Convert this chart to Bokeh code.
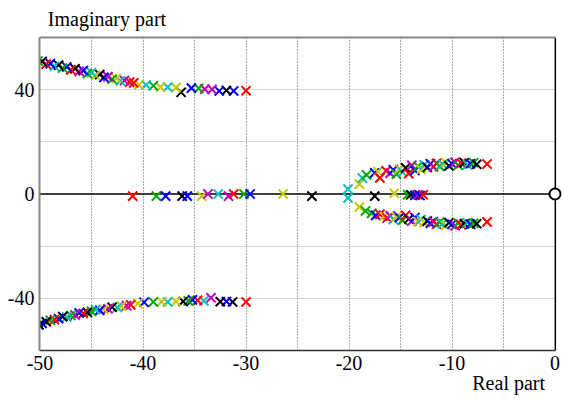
from bokeh.plotting import figure
from bokeh.models import Range1d, FixedTicker, LinearAxis, Span, ColumnDataSource, BoxAnnotation
from bokeh.embed import file_html
from bokeh.resources import INLINE

# ---- data ----
ul_re = [-30.0, -31.2, -31.9, -32.6, -33.3, -34.0, -34.6, -35.3, -36.3, -36.8,
         -37.6, -38.3, -39.0, -39.7, -40.4, -40.9, -41.3, -41.8, -42.2, -42.6,
         -43.0, -43.4, -43.8, -44.2, -44.6, -45.0, -45.4, -45.8, -46.2, -46.6,
         -47.0, -47.4, -47.8, -48.2, -48.6, -49.0, -49.4, -49.8, -50.2, -50.5]
ul_im = [39.6, 39.5, 39.7, 39.5, 40.1, 40.2, 40.5, 40.6, 39.0, 40.8,
         41.0, 41.0, 41.5, 41.8, 41.9, 42.6, 42.9, 43.5, 43.4, 44.3,
         44.0, 45.0, 44.7, 45.8, 45.5, 46.6, 46.2, 47.3, 47.0, 48.0,
         47.6, 48.7, 48.3, 49.4, 49.0, 50.0, 49.8, 50.8, 51.0, 51.6]
ul_col = list("rbkbmmgbkycygcyrrmcygmbkycgbmkrbgkcbrkgg")

ll_re = [-30.0, -31.3, -31.9, -32.5, -33.4, -34.1, -34.7, -35.2, -35.6, -36.1,
         -36.8, -37.6, -38.2, -39.0, -39.9, -40.5, -41.2, -41.6, -42.1, -42.5,
         -43.0, -43.4, -43.8, -44.2, -44.6, -45.0, -45.4, -45.8, -46.2, -46.6,
         -47.0, -47.4, -47.8, -48.2, -48.6, -49.0, -49.4, -49.8, -50.1, -50.5]
ll_im = [-41.4, -41.4, -41.2, -41.3, -39.8, -41.0, -40.8, -40.6, -41.0, -41.2,
         -41.2, -41.4, -41.3, -41.4, -41.5, -42.0, -42.5, -42.8, -43.0, -43.5,
         -43.4, -44.0, -44.2, -44.6, -44.4, -45.0, -45.4, -45.8, -45.6, -46.4,
         -46.6, -47.2, -47.0, -47.8, -48.2, -48.4, -49.0, -49.6, -50.2, -50.8]
ll_col = list("rkbkmcrbgkycygbyrmyckmybcgkrbmgckbrgkbkg")

ax_re = [-41.0, -38.7, -37.8, -36.2, -35.7, -34.3, -33.7, -32.7, -31.7, -31.2,
         -30.2, -29.6, -26.4, -23.6, -17.5, -15.6, -14.3, -14.0, -13.6, -13.3,
         -13.1, -12.8]
ax_im = [-0.8, -0.8, -0.8, -0.8, -0.8, -0.8, 0.0, 0.0, -0.8, 0.0,
         0.0, 0.0, 0.0, -0.8, -0.8, 0.3, -0.3, -0.3, -0.5, -0.3,
         -0.6, -0.3]
ax_col = list("rgbkbymcmrgbykkygkbmbr")

uc_re = [-20.1, -19.0, -18.7, -18.3, -17.5, -17.2, -17.0, -16.4, -16.0, -15.7,
         -15.4, -15.1, -14.8, -14.5, -14.2, -13.9, -13.6, -13.3, -13.0, -12.7,
         -12.4, -12.1, -11.8, -11.5, -11.2, -10.9, -10.6, -10.3, -10.0, -9.7,
         -9.4, -9.1, -8.8, -8.5, -8.2, -7.9, -7.6, -6.6]
uc_im = [1.9, 3.8, 6.1, 7.3, 8.1, 8.6, 6.2, 8.9, 8.0, 9.3,
         7.6, 9.6, 8.4, 10.0, 7.8, 11.0, 9.0, 10.6, 9.4, 11.2,
         10.2, 11.6, 10.4, 11.8, 10.6, 11.4, 12.0, 10.8, 11.6, 12.2,
         11.0, 11.8, 12.0, 11.2, 11.6, 12.0, 11.4, 11.5]
uc_col = list("cycgbyrrmbgyckrmbgyckbmrgcykbmgrkcbgkr")

lc_re = [-20.1, -19.0, -18.4, -17.8, -17.4, -17.0, -16.6, -16.3, -16.0, -15.7,
         -15.4, -15.1, -14.8, -14.5, -14.2, -13.9, -13.6, -13.3, -13.0, -12.7,
         -12.4, -12.1, -11.8, -11.5, -11.2, -10.9, -10.6, -10.3, -10.0, -9.7,
         -9.4, -9.1, -8.8, -8.5, -8.2, -7.9, -7.6, -6.6]
lc_im = [-1.5, -5.0, -6.5, -7.4, -8.2, -7.8, -8.6, -9.2, -8.4, -9.8,
         -8.8, -9.0, -10.0, -8.2, -9.6, -10.4, -9.0, -10.6, -9.8, -11.0,
         -10.4, -11.2, -10.6, -11.6, -10.8, -11.4, -12.0, -11.0, -11.6, -12.2,
         -11.2, -11.8, -11.4, -11.0, -11.6, -11.2, -11.4, -10.7]
lc_col = list("cyggbryrmcybgrkmbycykbmrgcykbmgrkcbgkr")

zero_re = [0.0]
zero_im = [0.0]

x_ticks = [-50, -40, -30, -20, -10, 0]
x_tick_labels = ["-50", "-40", "-30", "-20", "-10", "0"]
y_ticks = [-40, 0, 40]
y_tick_labels = ["-40", "0", "40"]
x_grid = [-45, -40, -35, -30, -25, -20, -15, -10, -5]
y_grid = [-40, -20, 20, 40]

x_title = "Real part"
y_title = "Imaginary part"
x_title_at = -4.5
y_title_at = -43.5

X_LO, X_HI = -50.05, 0.05      # the visible box of the axes
COLORS = {'r': '#ff0000', 'g': '#00a800', 'b': '#0000ff', 'k': '#000000',
          'c': '#00c0c0', 'm': '#c000c0', 'y': '#c8c800'}

FONT = "Liberation Serif"

# the drawing area runs a few pixels past the right border so the origin circle is not clipped
p = figure(width=562, height=400, x_range=Range1d(X_LO, 0.63), y_range=Range1d(-60, 60),
           output_backend="svg", toolbar_location=None,
           min_border_left=39, min_border_right=1, min_border_top=37, min_border_bottom=50,
           background_fill_color="white", border_fill_color="white")
p.outline_line_color = None

# grids
p.xgrid.ticker = FixedTicker(ticks=x_grid)
p.xgrid.grid_line_color = "#555555"
p.xgrid.grid_line_dash = "1 2"
p.xgrid.grid_line_width = 1
p.ygrid.ticker = FixedTicker(ticks=y_grid)
p.ygrid.grid_line_color = "#aaaaaa"
p.ygrid.grid_line_dash = "1 1"
p.ygrid.grid_line_width = 1


def style(ax, ticks, labels, standoff):
    ax.ticker = FixedTicker(ticks=ticks)
    ax.major_label_overrides = {t: l for t, l in zip(ticks, labels)}
    ax.major_tick_line_color = None
    ax.minor_tick_line_color = None
    ax.major_tick_out = 0
    ax.major_tick_in = 0
    ax.minor_tick_out = 0
    ax.minor_tick_in = 0
    ax.major_label_text_font = FONT
    ax.major_label_text_font_size = "20px"
    ax.major_label_text_color = "black"
    ax.major_label_standoff = standoff


style(p.xaxis[0], x_ticks, x_tick_labels, 5)
p.xaxis[0].axis_line_color = "#333333"
p.xaxis[0].axis_line_width = 1.5
p.xaxis[0].bounds = (X_LO, X_HI)
style(p.yaxis[0], y_ticks, y_tick_labels, 5)
p.yaxis[0].axis_line_color = "#888888"
p.yaxis[0].axis_line_width = 2

# top axis carries the vertical-axis title, second bottom axis the horizontal title
top = LinearAxis()
style(top, [y_title_at], [y_title], 8)
top.axis_line_color = "#888888"
top.axis_line_width = 2
top.bounds = (X_LO, X_HI)
p.add_layout(top, "above")

bottom2 = LinearAxis()
style(bottom2, [x_title_at], [x_title], -1)
bottom2.axis_line_color = None
bottom2.bounds = (X_LO, X_HI)
p.add_layout(bottom2, "below")

# blank strip right of the border, then zero line and right border
p.add_layout(BoxAnnotation(left=X_HI, fill_color="white", fill_alpha=1.0, line_color=None,
                           level="underlay"))
p.add_layout(Span(location=0, dimension="width", line_color="black", line_width=1.5, level="underlay"))
p.add_layout(Span(location=X_HI - 0.02, dimension="height", line_color="black", line_width=1.5,
                  level="underlay"))

# markers
for re_, im_, col in ((ul_re, ul_im, ul_col), (ll_re, ll_im, ll_col), (ax_re, ax_im, ax_col),
                      (uc_re, uc_im, uc_col), (lc_re, lc_im, lc_col)):
    src = ColumnDataSource(dict(x=re_, y=im_, c=[COLORS[k] for k in col]))
    p.scatter("x", "y", source=src, marker="x", size=13, line_color="c", line_width=2)

p.scatter(zero_re, zero_im, marker="circle", size=11, fill_color="white",
          line_color="black", line_width=2)

open("out.html", "w").write(file_html(p, INLINE))
